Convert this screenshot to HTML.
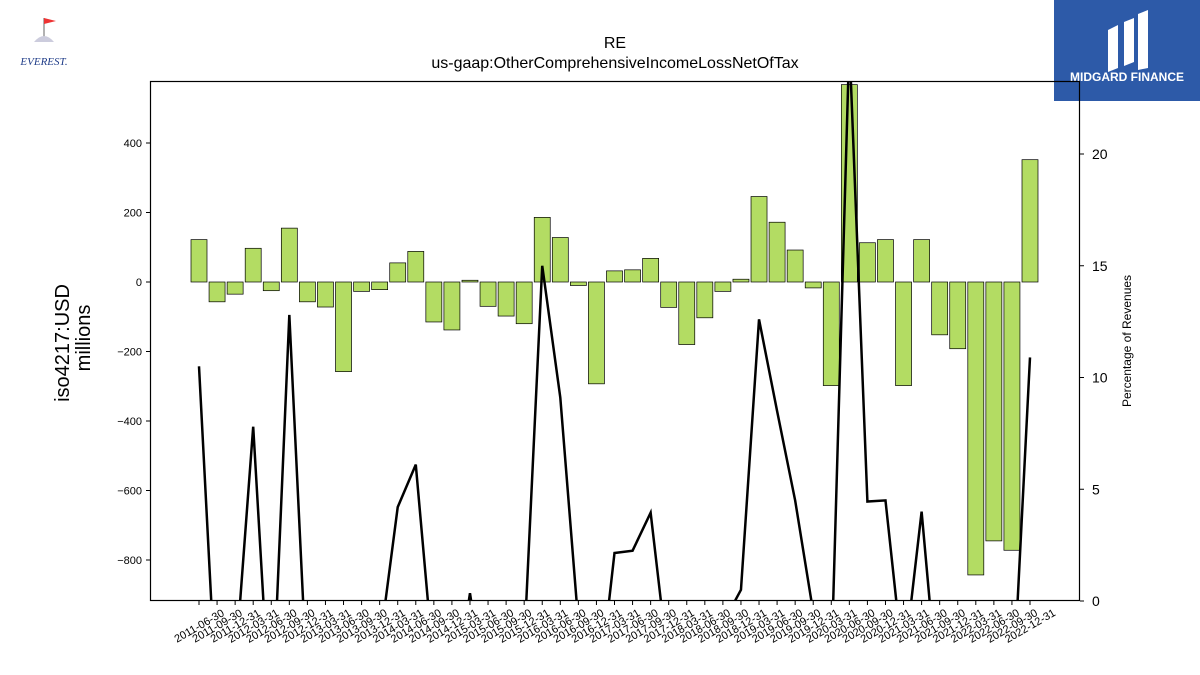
<!DOCTYPE html>
<html><head><meta charset="utf-8"><style>
html,body{margin:0;background:#fff;font-family:"Liberation Sans","DejaVu Sans",sans-serif;overflow:hidden;width:1200px;height:675px;}
#wrap{position:relative;width:1200px;height:675px;overflow:hidden;}
svg{display:block;}
</style></head><body>
<div id="wrap">
<svg id="chart" width="1200" height="675" xmlns="http://www.w3.org/2000/svg">
<g>
<path d="M44 18 L44 40" stroke="#999" stroke-width="1.5"/>
<path d="M44 18 L56 21 L44 24 Z" fill="#e33"/>
<path d="M34 42 Q44 30 54 42 Z" fill="#ccd"/>
<text x="44" y="65" font-size="11" font-style="italic" fill="#1f3c88" text-anchor="middle" font-family="Liberation Serif,serif">EVEREST.</text>
</g>
<g>
<rect x="1054" y="0" width="146" height="101" fill="#2d5aa8"/>
<path d="M1108 30 L1118 25 L1118 68 L1108 72 Z M1124 22 L1134 18 L1134 62 L1124 66 Z M1138 14 L1148 10 L1148 68 L1138 70 Z" fill="#fff"/>
<text x="1127" y="81" font-size="12" font-weight="bold" fill="#fff" text-anchor="middle">MIDGARD FINANCE</text>
</g>
<text x="615" y="48" font-size="16" text-anchor="middle">RE</text>
<text x="615" y="68" font-size="16" text-anchor="middle">us-gaap:OtherComprehensiveIncomeLossNetOfTax</text>
<text transform="translate(69,343) rotate(-90)" font-size="20" text-anchor="middle">iso4217:USD</text>
<text transform="translate(90,338) rotate(-90)" font-size="20" text-anchor="middle">millions</text>
<text transform="translate(1131,341) rotate(-90)" font-size="12" text-anchor="middle">Percentage of Revenues</text>
<g id="bars"></g><g id="line"></g><g id="axes"></g>
<rect x="150.5" y="81.5" width="929" height="519" fill="none" stroke="#000" stroke-width="1.2"/>
</svg>
</div>
<script>
const categories=["2011-06-30","2011-09-30","2011-12-31","2012-03-31","2012-06-30","2012-09-30","2012-12-31","2013-03-31","2013-06-30","2013-09-30","2013-12-31","2014-03-31","2014-06-30","2014-09-30","2014-12-31","2015-03-31","2015-06-30","2015-09-30","2015-12-31","2016-03-31","2016-06-30","2016-09-30","2016-12-31","2017-03-31","2017-06-30","2017-09-30","2017-12-31","2018-03-31","2018-06-30","2018-09-30","2018-12-31","2019-03-31","2019-06-30","2019-09-30","2019-12-31","2020-03-31","2020-06-30","2020-09-30","2020-12-31","2021-03-31","2021-06-30","2021-09-30","2021-12-31","2022-03-31","2022-06-30","2022-09-30","2022-12-31"];
const ociValues=[122,-57,-35,97,-25,155,-57,-72,-258,-27,-22,55,88,-115,-138,5,-70,-98,-120,186,128,-10,-293,32,35,68,-73,-180,-103,-27,8,246,172,92,-17,-298,568,113,122,-298,122,-152,-192,-843,-745,-772,352];
const pctValues=[10.5,-5,-3,7.8,-6,12.8,-4,-5,-5,-5,-2,4.2,6.1,-3,-5,0.35,-5,-5,-2,15.0,9.1,-1,-5,2.15,2.25,3.95,-3,-5,-5,-1,0.5,12.6,8.5,4.5,-0.5,-3,25,4.45,4.5,-3,4.0,-5,-5,-5,-5,-5,10.9];
const leftTicks=[-800,-600,-400,-200,0,200,400];
const rightTicks=[0,5,10,15,20];
const NS="http://www.w3.org/2000/svg";
const X0=150,X1=1080,Y0=81,Y1=601;
const yL=v=>282-v*0.3475;
const yR=v=>601-v*22.35;
const xC=i=>199+i*(831/46);
function mk(t,a,p){const e=document.createElementNS(NS,t);for(const k in a)e.setAttribute(k,a[k]);p.appendChild(e);return e;}
const bars=document.getElementById('bars'),line=document.getElementById('line'),axes=document.getElementById('axes');
ociValues.forEach((v,i)=>{
 const y=Math.min(yL(v),yL(0)),h=Math.abs(yL(v)-yL(0));
 const r=mk('rect',{x:xC(i)-8,y:y,width:16,height:h,fill:'#b3dc63',stroke:'#000','stroke-width':0.7},bars);
 
 
});
const cp=mk('clipPath',{id:'pc'},line);mk('rect',{x:X0,y:Y0,width:X1-X0,height:Y1-Y0},cp);
const pl=mk('polyline',{points:pctValues.map((v,i)=>xC(i)+','+yR(v)).join(' '),fill:'none',stroke:'#000','stroke-width':2.5,'clip-path':'url(#pc)'},line);


leftTicks.forEach(t=>{
 mk('line',{x1:X0-4,x2:X0,y1:yL(t),y2:yL(t),stroke:'#000'},axes);
 const tx=mk('text',{x:X0-8,y:yL(t)+4,'font-size':11,'text-anchor':'end'},axes);
 tx.textContent=t<0?'\u2212'+(-t):t;
 
 
});
rightTicks.forEach(t=>{
 mk('line',{x1:X1,x2:X1+4,y1:yR(t),y2:yR(t),stroke:'#000'},axes);
 const tx=mk('text',{x:X1+12,y:yR(t)+5,'font-size':14},axes);
 tx.textContent=t;
 
 
});
categories.forEach((c,i)=>{
 mk('line',{x1:xC(i),x2:xC(i),y1:Y1,y2:Y1+4,stroke:'#000'},axes);
 const tx=mk('text',{transform:'translate('+(xC(i)+2)+','+(Y1+28)+') rotate(-30)','font-size':11,'text-anchor':'middle'},axes);
 tx.textContent=c;
 
 
});
</script>
</body></html>
